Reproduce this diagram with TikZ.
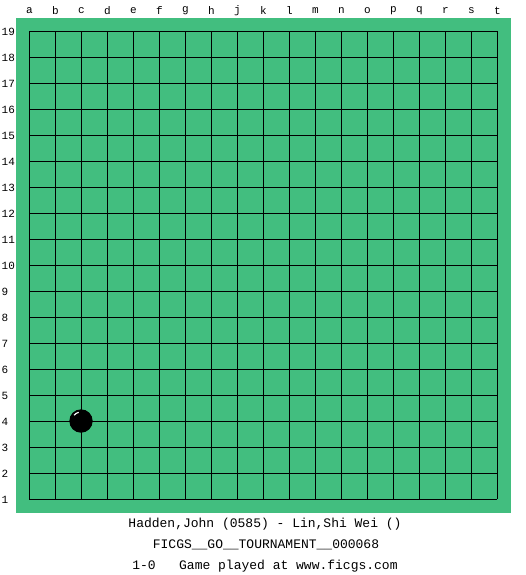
\documentclass[tikz,border=0pt]{standalone}
\usepackage{fontspec}
\setmonofont{Liberation Mono}
\definecolor{board}{RGB}{66,190,127}
\tikzset{
  gridline/.style={line width=1.3pt, black},
  collabel/.style={font=\ttfamily\fontsize{11}{11}\selectfont, anchor=center, inner sep=0pt},
  rowlabel/.style={font=\ttfamily\fontsize{11}{11}\selectfont, anchor=west, inner sep=0pt},
  caption/.style={font=\ttfamily\fontsize{13}{13}\selectfont, anchor=center, inner sep=0pt},
  stone/.style={circle, fill=black, minimum size=23.4pt, inner sep=0pt}
}
\begin{document}
\begin{tikzpicture}[x=1pt,y=-1pt]
\useasboundingbox (0,0) rectangle (525,575);
\fill[white] (0,0) rectangle (525,575);
\fill[board] (16,18) rectangle (511,512.5);
\foreach \i in {0,...,18} {
  \draw[gridline] (29.3+26*\i,31.3) -- (29.3+26*\i,499.3);
  \draw[gridline] (29.3,31.3+26*\i) -- (497.3,31.3+26*\i);
}
\foreach \l [count=\i from 0] in {a,b,c,d,e,f,g,h,j,k,l,m,n,o,p,q,r,s,t} {
  \node[collabel] (col\l) at (29.3+26*\i,11) {\l};
}
\foreach \n [count=\i from 0] in {19,18,...,1} {
  \node[rowlabel] (row\n) at (1.5,31.8+26*\i) {\n};
}
\node[stone] (c4) at (81,421) {};
\draw[white, line width=1.2pt] (c4.center) ++(220:9) arc[start angle=220, end angle=255, radius=9];
\node[caption] (players) at (265,524) {Hadden,John (0585) - Lin,Shi Wei ()};
\node[caption] (event) at (266,545) {FICGS\_\_GO\_\_TOURNAMENT\_\_000068};
\node[caption] (result) at (265,566) {1-0\ \ \ Game played at www.ficgs.com};
\end{tikzpicture}
\end{document}
